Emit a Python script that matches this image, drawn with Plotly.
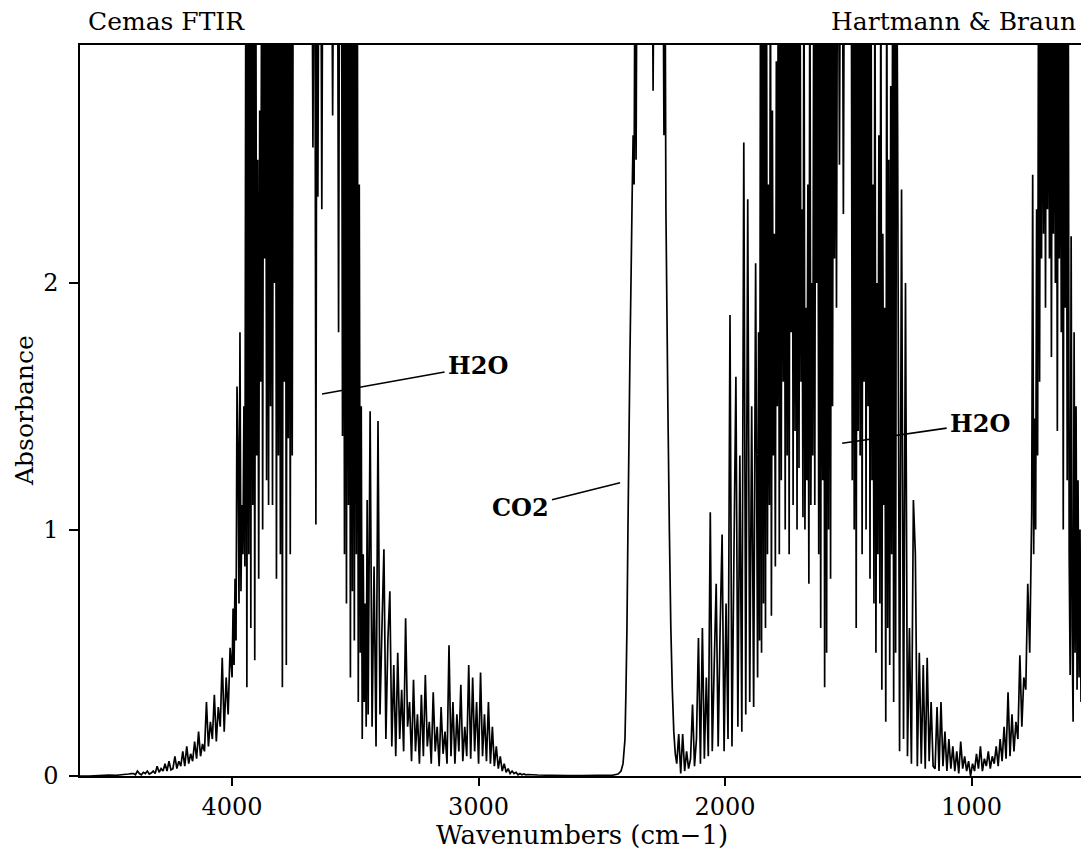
import numpy as np
import plotly.graph_objects as go

# ---------------- data ----------------
# High-wavenumber baseline (cm-1, absorbance)
BASE_WN = [4617, 4580, 4540, 4500, 4470, 4440, 4420, 4408]
BASE_ABS = [0.0, 0.0, 0.002, 0.004, 0.003, 0.006, 0.008, 0.01]

# H2O stretching band, outer wing: every 8 cm-1 from 4400 cm-1
LWING_START, LWING_STEP = 4400, 8
LWING_ABS = [
    0.01, 0.005, 0.02, 0.01, 0.005, 0.015, 0.01, 0.02, 0.008, 0.012,
    0.02, 0.01, 0.04, 0.015, 0.03, 0.02, 0.05, 0.02, 0.06, 0.025,
    0.03, 0.08, 0.03, 0.06, 0.04, 0.1, 0.04, 0.12, 0.05, 0.09,
    0.06, 0.14, 0.07, 0.18, 0.08, 0.13, 0.1, 0.3, 0.12, 0.22,
    0.15, 0.33, 0.14, 0.28, 0.2, 0.48, 0.18, 0.4, 0.25, 0.52,
]
# H2O stretching band, core: every 4 cm-1 from 4000 cm-1
LCORE_START, LCORE_STEP = 4000, 4
LCORE_ABS = [
    0.4, 0.68, 0.45, 0.8, 0.55, 1.58, 1.31, 0.7, 1.8, 0.75, 1.1, 0.9, 1.5, 0.85,
    3.5, 0.36, 3.5, 0.9, 3.5, 0.6, 3.5, 1.1, 3.5, 0.47, 3.5, 1.3, 2.5, 0.8,
    2.7, 1.6, 3.5, 1.0, 3.5, 2.1, 3.5, 1.2, 3.5, 1.1, 3.5, 1.5, 3.5, 1.1,
    3.5, 2.0, 3.5, 0.8, 3.5, 1.3, 3.5, 0.9, 3.5, 0.36, 3.5, 1.6, 3.5, 0.45,
    3.5, 1.37, 3.5, 0.9,
    3.5, 1.3, 3.5, 3.5, 3.5, 3.5, 3.5, 3.5, 3.5, 3.5, 3.5, 3.5, 3.5, 3.5,
    3.5, 3.5, 3.5, 3.5, 3.5, 3.5, 3.5,
    3.5, 2.55, 3.5, 3.5, 1.02, 3.5, 2.35, 3.5, 3.5, 3.5, 2.3, 3.5, 3.5, 3.5,
    3.5, 3.5, 3.5, 3.5,
    3.5, 3.5, 3.5, 2.68, 3.5, 3.5, 3.5, 3.5, 3.5, 1.8, 3.5, 3.5, 3.5, 1.38,
    3.5, 0.9, 3.5, 0.7, 3.5, 1.1,
    3.5, 0.4, 3.5, 0.75, 3.5, 0.55, 3.5, 0.9, 3.5, 0.3, 2.4, 0.5, 1.5, 0.15,
    0.9, 0.3, 0.7, 0.2, 1.12, 0.25,
]
# H2O stretching band, low-wavenumber tail: every 8 cm-1 from 3440 cm-1
LTAIL_START, LTAIL_STEP = 3440, 8
LTAIL_ABS = [
    1.48, 0.2, 0.85, 0.12, 1.44, 0.25, 0.6, 0.92, 0.15, 0.55,
    0.75, 0.12, 0.45, 0.08, 0.5, 0.15, 0.35, 0.1, 0.64, 0.2,
    0.3, 0.06, 0.39, 0.1, 0.25, 0.05, 0.33, 0.08, 0.41, 0.12,
    0.22, 0.05, 0.34, 0.1, 0.2, 0.04, 0.28, 0.09, 0.18, 0.05,
    0.53, 0.08, 0.3, 0.05, 0.25, 0.1, 0.37, 0.06, 0.2, 0.08,
    0.45, 0.07, 0.4, 0.1, 0.3, 0.05, 0.42, 0.08, 0.25, 0.06,
    0.3, 0.05, 0.2, 0.04, 0.12, 0.03, 0.08, 0.02, 0.05, 0.015,
    0.03, 0.01, 0.02, 0.01, 0.015, 0.005, 0.01, 0.005, 0.008, 0.005,
]

# Flat window between the bands
GAP_WN = [2800, 2760, 2700, 2640, 2580, 2520, 2480]
GAP_ABS = [0.006, 0.004, 0.003, 0.002, 0.002, 0.003, 0.003]

# CO2 stretching band
CO2_WN = [2458, 2434, 2422, 2414, 2406, 2402, 2398, 2394, 2390, 2386,
          2381, 2377, 2373, 2369, 2365, 2361, 2357, 2353, 2320, 2296,
          2292, 2288, 2256, 2252, 2248, 2244, 2240, 2236, 2232, 2226,
          2220, 2214, 2208, 2202, 2196]
CO2_ABS = [0.003, 0.008, 0.02, 0.05, 0.15, 0.35, 0.6, 1.0, 1.35, 1.7,
           2.05, 2.35, 2.6, 2.4, 3.5, 2.5, 3.5, 3.5, 3.5, 3.5,
           2.78, 3.5, 3.5, 3.5, 2.6, 3.5, 2.3, 1.9, 1.5, 1.0,
           0.6, 0.35, 0.18, 0.09, 0.05]

# H2O bending band, high-wavenumber wing: every 8 cm-1 from 2188 cm-1
RWING_START, RWING_STEP = 2188, 8
RWING_ABS = [
    0.17, 0.01, 0.17, 0.02, 0.1, 0.03, 0.07, 0.29, 0.04, 0.15,
    0.56, 0.05, 0.6, 0.07, 0.4, 0.08, 1.07, 0.1, 0.45, 0.78,
    0.12, 0.6, 0.98, 0.1, 0.7, 0.15, 1.87, 0.12, 0.9, 1.62,
    0.2, 1.3, 0.18, 2.57, 0.25, 2.34, 0.3, 1.5, 0.28, 2.08,
]
# H2O bending band, core: every 4 cm-1 from 1868 cm-1
RCORE_START, RCORE_STEP = 1868, 4
RCORE_ABS = [
    0.4, 1.8, 0.55, 3.5, 0.5,
    3.5, 0.7, 3.5, 0.6, 3.5, 0.9, 2.4, 1.1, 3.5, 0.65, 2.7, 1.3, 2.2, 0.85,
    2.9, 1.5, 3.5, 0.9, 3.5, 1.2, 3.5, 1.6, 3.5, 1.0, 3.5, 1.3, 3.5, 0.9,
    3.5, 1.8, 3.5, 1.1, 3.5, 1.4, 3.5, 1.0, 3.5, 1.25, 3.5, 1.6,
    2.3, 1.05, 3.5, 1.0, 1.9, 1.2, 2.4, 0.78, 3.5, 1.1, 2.0, 1.3, 3.5, 1.1,
    3.5, 2.0,
    3.5, 0.9, 3.5, 0.6, 3.5, 1.2, 3.5, 0.36, 3.5, 0.5, 3.5, 1.0, 3.5, 0.8,
    3.5, 1.5, 3.5, 2.1,
    3.5, 1.9, 3.5, 3.5, 2.48, 3.5, 3.5, 3.5, 2.28, 3.5, 3.5, 3.5, 3.5, 3.5,
    3.5, 3.5,
    3.5, 1.2, 3.5, 1.0, 3.5, 0.6, 3.5, 1.4, 3.5, 1.3, 3.5, 0.9, 3.5, 1.6,
    3.5, 1.0, 3.5, 1.5, 3.5, 0.8, 3.5, 1.2, 2.4, 0.7, 3.5, 0.5, 2.0, 0.9,
    2.6, 0.7, 3.5, 0.35, 2.2, 1.1, 1.9, 0.22, 3.5, 0.6, 2.5, 0.45, 2.8, 0.9,
    3.5, 0.3, 3.5, 0.5, 3.5, 2.65,
]
# H2O bending band, low-wavenumber tail: every 8 cm-1 from 1292 cm-1
RTAIL_START, RTAIL_STEP = 1292, 8
RTAIL_ABS = [
    0.1, 2.38, 0.15, 2.0, 0.08, 0.6, 0.05, 1.12,
    0.9, 0.04, 0.5, 0.05, 0.45, 0.03, 0.48, 0.06, 0.3, 0.04,
    0.03, 0.28, 0.02, 0.3, 0.04, 0.18, 0.02, 0.15, 0.03, 0.12,
    0.02, 0.1, 0.01, 0.14, 0.03, 0.08, 0.02, 0.06, 0.0, 0.05,
    0.02, 0.09, 0.03, 0.12, 0.02, 0.07, 0.04, 0.1, 0.03, 0.08,
    0.05, 0.12, 0.04, 0.15, 0.06, 0.2, 0.07, 0.34, 0.08, 0.25,
    0.1, 0.22, 0.15, 0.49, 0.2, 0.4, 0.35, 0.78, 0.5, 1.07,
]
# CO2 bending band: every 4 cm-1 from 752 cm-1
CEND_START, CEND_STEP = 752, 4
CEND_ABS = [
    2.44, 0.9, 1.45, 1.0, 2.3, 1.3, 3.5, 1.6, 3.5, 2.1,
    3.5, 2.2, 3.5, 1.9, 3.5, 2.3, 3.5, 2.1, 3.5, 1.7,
    3.5, 2.2, 3.5, 2.0, 3.5, 1.4, 3.5, 2.1, 3.5, 1.8,
    3.5, 1.0, 3.5, 1.9, 3.5, 1.2, 3.5, 0.9, 0.41, 2.19,
    0.6, 0.22, 1.8, 0.5, 1.5, 0.35, 1.2, 0.4, 1.0, 0.3,
]

X_TICKS = [4000, 3000, 2000, 1000]
Y_TICKS = [0, 1, 2]
X_RANGE = [4617, 556]
Y_RANGE = [0, 2.966]

LABELS = [("H2O", 3635, 1.55, 156, -28),
          ("CO2", 2426, 1.19, -100, 25),
          ("H2O", 1525, 1.35, 138, -20)]


# ---------------- assemble spectrum ----------------
def grid(start, step, values):
    return start - step * np.arange(len(values))


wn = np.concatenate([
    BASE_WN,
    grid(LWING_START, LWING_STEP, LWING_ABS),
    grid(LCORE_START, LCORE_STEP, LCORE_ABS),
    grid(LTAIL_START, LTAIL_STEP, LTAIL_ABS),
    GAP_WN, CO2_WN,
    grid(RWING_START, RWING_STEP, RWING_ABS),
    grid(RCORE_START, RCORE_STEP, RCORE_ABS),
    grid(RTAIL_START, RTAIL_STEP, RTAIL_ABS),
    grid(CEND_START, CEND_STEP, CEND_ABS),
])
ab = np.concatenate([BASE_ABS, LWING_ABS, LCORE_ABS, LTAIL_ABS, GAP_ABS, CO2_ABS,
                     RWING_ABS, RCORE_ABS, RTAIL_ABS, CEND_ABS])

FONT = "DejaVu Serif"

fig = go.Figure()
fig.add_trace(go.Scatter(x=wn, y=ab, mode="lines",
                         line=dict(color="black", width=1.7, simplify=False),
                         hoverinfo="skip", showlegend=False))

fig.update_layout(
    width=1081, height=852,
    margin=dict(l=80, r=0, t=45, b=76),
    paper_bgcolor="white", plot_bgcolor="white",
    font=dict(family=FONT, size=24, color="black"),
    showlegend=False,
)
fig.update_xaxes(range=X_RANGE, tickvals=X_TICKS, ticktext=[str(v) for v in X_TICKS],
                 showline=True, linecolor="black", linewidth=1.5, mirror=True,
                 ticks="outside", ticklen=8, tickwidth=1.5, tickcolor="black",
                 showgrid=False, zeroline=False,
                 tickfont=dict(family=FONT, size=24, color="black"))
fig.update_yaxes(range=Y_RANGE, tickvals=Y_TICKS, ticktext=[str(v) for v in Y_TICKS],
                 showline=True, linecolor="black", linewidth=1.5,
                 ticks="outside", ticklen=9, tickwidth=1.5, tickcolor="black",
                 ticklabelstandoff=6,
                 showgrid=False, zeroline=False,
                 tickfont=dict(family=FONT, size=24, color="black"))

ann = [
    dict(text="Cemas FTIR", xref="paper", yref="paper", x=0.006, y=1.0315,
         xanchor="left", yanchor="middle", showarrow=False,
         font=dict(family=FONT, size=25)),
    dict(text="Hartmann &amp; Braun", xref="paper", yref="paper", x=0.997, y=1.0315,
         xanchor="right", yanchor="middle", showarrow=False,
         font=dict(family=FONT, size=25)),
    dict(text="Wavenumbers (cm\u22121)", xref="paper", yref="paper", x=0.5015, y=-0.0807,
         xanchor="center", yanchor="middle", showarrow=False,
         font=dict(family=FONT, size=26)),
    dict(text="Absorbance", xref="paper", yref="paper", x=-0.055, y=0.5007,
         xanchor="center", yanchor="middle", showarrow=False, textangle=-90,
         font=dict(family=FONT, size=25)),
]
for txt, x, y, ax, ay in LABELS:
    ann.append(dict(text=txt, x=x, y=y, xref="x", yref="y", ax=ax, ay=ay,
                    axref="pixel", ayref="pixel",
                    showarrow=True, arrowhead=0, arrowwidth=1.6, arrowcolor="black",
                    standoff=0, startstandoff=2,
                    font=dict(family=FONT, size=24, weight="bold")))
fig.update_layout(annotations=ann)

fig.write_html("out.html",
               config={"displayModeBar": False},
               post_script="document.body.style.margin='0';"
                           "document.body.style.overflow='hidden';")
